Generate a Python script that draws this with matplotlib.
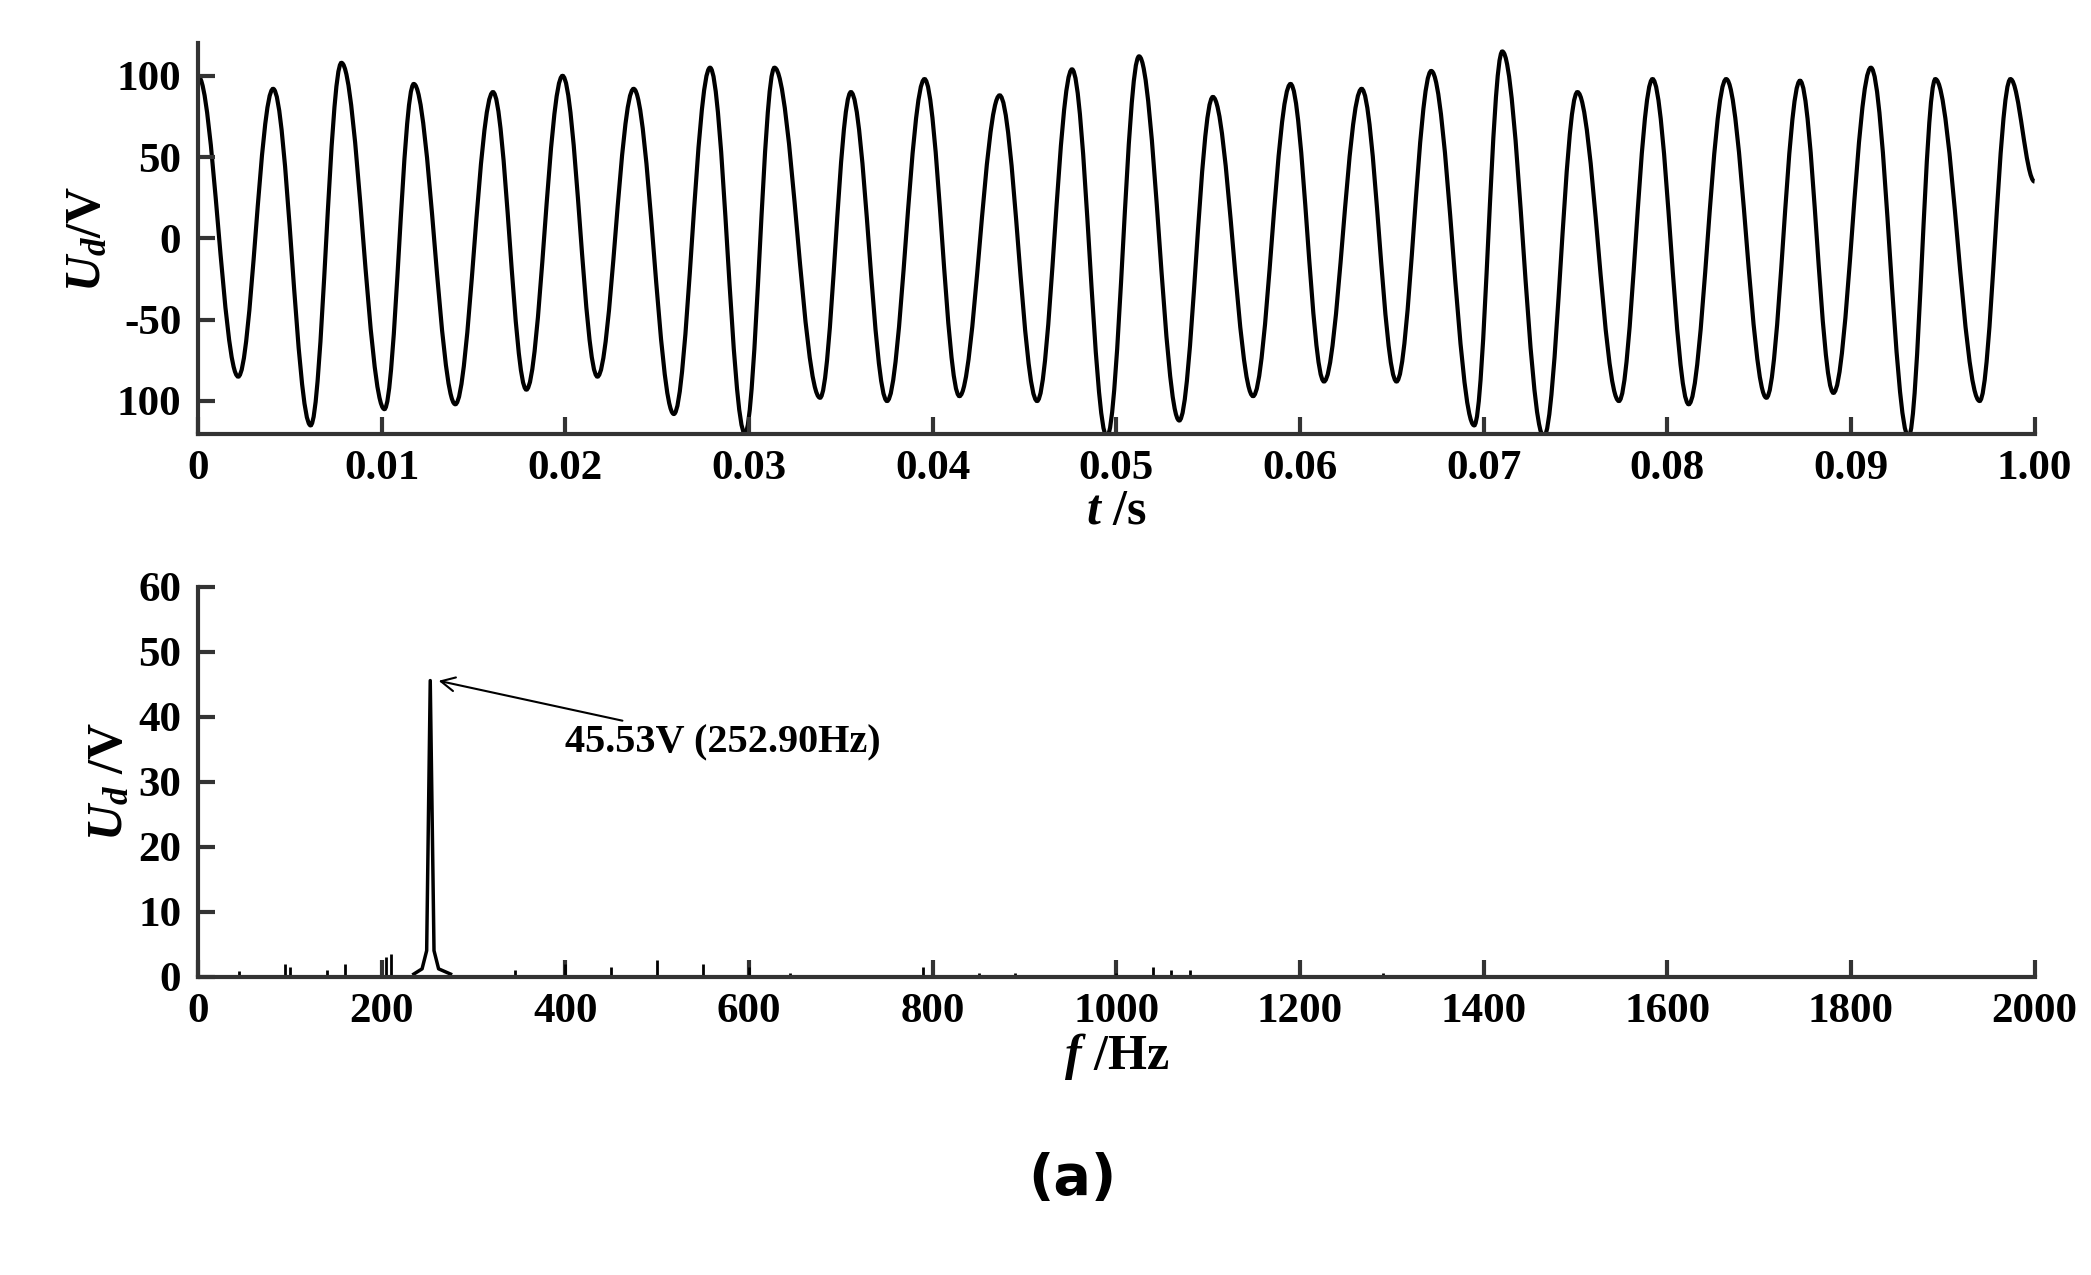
import matplotlib.pyplot as plt
from matplotlib.path import Path
from matplotlib.patches import PathPatch

plt.rcParams['font.family'] = 'Liberation Serif'
plt.rcParams['font.weight'] = 'bold'
plt.rcParams['mathtext.fontset'] = 'custom'
plt.rcParams['mathtext.it'] = 'Liberation Serif:bold:italic'
plt.rcParams['mathtext.rm'] = 'Liberation Serif:bold'

# --- time signal, extrema
peak_t = [0.00409, 0.00781, 0.01175, 0.01606, 0.01985, 0.02372, 0.02788, 0.03139,
          0.03555, 0.03956, 0.04365, 0.04759, 0.05124, 0.05526, 0.05949, 0.06336,
          0.06715, 0.07102, 0.07511, 0.0792, 0.08321, 0.08723, 0.09109, 0.0946, 0.09869]
peak_v = [92, 108, 95, 90, 100, 92, 105, 105, 90, 98, 88, 104, 112, 87, 95, 92,
          103, 115, 90, 98, 98, 97, 105, 98, 98]
trough_t = [0.00219, 0.00613, 0.01015, 0.01401, 0.01788, 0.02175, 0.02591, 0.02978,
            0.03387, 0.03752, 0.04146, 0.04569, 0.04949, 0.05343, 0.05745, 0.06131,
            0.06526, 0.06949, 0.07328, 0.07737, 0.08117, 0.0854, 0.08905, 0.09314, 0.09701]
trough_v = [-85, -115, -105, -102, -93, -85, -108, -120, -98, -100, -97, -100, -122,
            -112, -97, -88, -88, -115, -122, -100, -102, -98, -95, -122, -100]
start_pt = (0.0, 100)
end_pt = (0.1, 35)

# --- spectrum, small lines and main peak
spike_f = [45, 95, 100, 140, 160, 205, 210, 345, 400, 450, 500, 550, 600, 645, 700,
           790, 850, 890, 1000, 1040, 1060, 1080, 1290, 1350, 1550]
spike_a = [0.8, 2.0, 1.5, 1.0, 2.0, 3.0, 3.5, 1.0, 2.0, 1.5, 2.5, 2.0, 1.5, 0.5, 0.3,
           1.5, 0.5, 0.6, 0.6, 1.5, 1.0, 1.0, 0.6, 0.2, 0.3]
peak_f = [235, 244, 249, 252.9, 257, 262, 275]
peak_a = [0.4, 1.2, 4.0, 45.53, 4.0, 1.2, 0.4]

fig = plt.figure(figsize=(20.91, 12.75), dpi=100)
ax1 = fig.add_axes([0.0947, 0.660, 0.8783, 0.306])
ax2 = fig.add_axes([0.0947, 0.234, 0.8783, 0.306])

spine_c = '#333333'
for ax in (ax1, ax2):
    for s in ('top', 'right'):
        ax.spines[s].set_visible(False)
    for s in ('left', 'bottom'):
        ax.spines[s].set_linewidth(3)
        ax.spines[s].set_color(spine_c)
    ax.tick_params(direction='in', length=12, width=3, color=spine_c,
                   labelsize=31, pad=12)

# smooth waveform through the extrema (bezier segments)
pts = [start_pt] + sorted(zip(peak_t + trough_t, peak_v + trough_v)) + [end_pt]
verts = [pts[0]]
codes = [Path.MOVETO]
for (x0, y0), (x1, y1) in zip(pts[:-1], pts[1:]):
    d = (x1 - x0) * 0.36
    verts += [(x0 + d, y0), (x1 - d, y1), (x1, y1)]
    codes += [Path.CURVE4] * 3
ax1.add_patch(PathPatch(Path(verts, codes), fill=False, lw=3, color='black'))

ax1.set_xlim(0, 0.1)
ax1.set_ylim(-120, 120)
ax1.set_xticks([0, 0.01, 0.02, 0.03, 0.04, 0.05, 0.06, 0.07, 0.08, 0.09, 0.1])
ax1.set_xticklabels(['0', '0.01', '0.02', '0.03', '0.04', '0.05', '0.06', '0.07',
                     '0.08', '0.09', '1.00'])
ax1.set_yticks([-100, -50, 0, 50, 100])
ax1.set_yticklabels(['100', '-50', '0', '50', '100'])
ax1.set_xlabel(r'$t\ /\mathrm{s}$', fontsize=36, labelpad=0)
ax1.set_ylabel(r'$U_d/\mathrm{V}$', fontsize=36, labelpad=4)

ax2.vlines(spike_f, 0, spike_a, color='black', lw=2)
ax2.plot(peak_f, peak_a, color='black', lw=2.5)
ax2.set_xlim(0, 2000)
ax2.set_ylim(0, 60)
ax2.set_xticks(range(0, 2001, 200))
ax2.set_yticks(range(0, 61, 10))
ax2.set_xlabel(r'$f\ /\mathrm{Hz}$', fontsize=36, labelpad=0)
ax2.set_ylabel(r'$U_d\ /\mathrm{V}$', fontsize=36, labelpad=4)
ax2.annotate('45.53V (252.90Hz)', xy=(262, 45.5), xytext=(400, 36),
             fontsize=29, fontweight='bold', va='center',
             arrowprops=dict(arrowstyle='->', color='black', lw=1.5,
                             mutation_scale=25, shrinkA=2, shrinkB=0))

fig.text(0.513, 0.075, '(a)', fontsize=40, fontweight='bold',
         family='DejaVu Sans', ha='center', va='center')

fig.savefig('out.png', dpi=100)
